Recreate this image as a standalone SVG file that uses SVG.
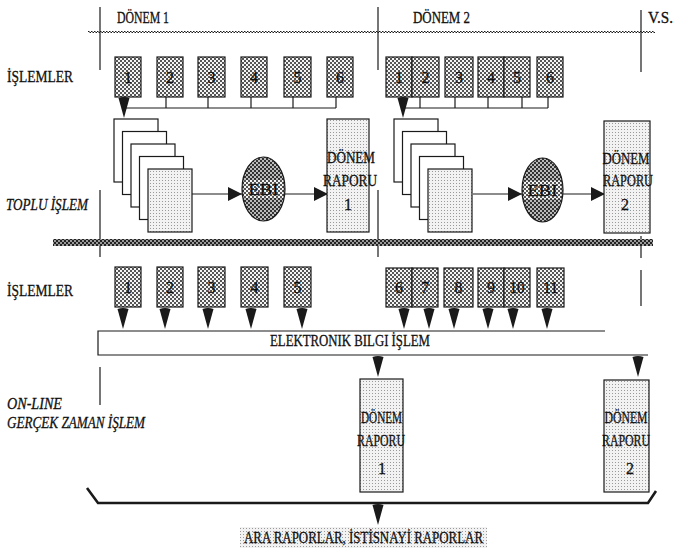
<svg xmlns="http://www.w3.org/2000/svg" width="674" height="552" viewBox="0 0 674 552">
<style>
  text { font-family: "Liberation Serif", "Times New Roman", serif; fill: #111; stroke: #111; stroke-width: 0.3; }
  .lbl { font-size: 16px; }
  .it { font-size: 16px; font-style: italic; }
  .num { font-size: 16px; text-anchor: middle; }
  .rep { font-size: 16px; text-anchor: middle; }
  .ln { stroke: #1a1a1a; stroke-width: 1.2; fill: none; }
  .box { fill: url(#pd); stroke: #1a1a1a; stroke-width: 1.2; }
  .lbox { fill: url(#pl); stroke: #1a1a1a; stroke-width: 1.2; }
  .sheet { fill: #fff; stroke: #1a1a1a; stroke-width: 1.2; }
  .ah { fill: #1a1a1a; }
  .wv { stroke: #1a1a1a; stroke-width: 1.2; stroke-dasharray: 1.5 1.5; }
</style>
<defs>
  <pattern id="pd" width="4" height="4" patternUnits="userSpaceOnUse">
    <rect width="4" height="4" fill="#f4f4f4"/>
    <rect width="2" height="2" fill="#555"/>
    <rect x="2" y="2" width="2" height="2" fill="#555"/>
  </pattern>
  <pattern id="pe" width="4" height="4" patternUnits="userSpaceOnUse">
    <rect width="4" height="4" fill="#bbb"/>
    <rect width="2" height="2" fill="#333"/>
    <rect x="2" y="2" width="2" height="2" fill="#333"/>
  </pattern>
  <pattern id="pl" width="3" height="3" patternUnits="userSpaceOnUse">
    <rect width="3" height="3" fill="#f2f2f2"/>
    <rect width="1" height="1" fill="#999"/>
  </pattern>
  <pattern id="pb" width="4" height="4" patternUnits="userSpaceOnUse">
    <rect width="4" height="4" fill="#9a9a9a"/>
    <rect width="2" height="2" fill="#222"/>
    <rect x="2" y="2" width="2" height="2" fill="#222"/>
  </pattern>
  <path id="dn" d="M-5.5,1 Q0,-1 5.5,1 L0,21 Z"/>
  <marker id="arr" markerUnits="userSpaceOnUse" markerWidth="15" markerHeight="14" refX="14" refY="7" orient="auto">
    <path d="M0,0 L14,7 L0,14 Z" fill="#1a1a1a"/>
  </marker>
</defs>
<rect width="674" height="552" fill="#fff"/>

<g id="header">
  <line class="wv" x1="88" y1="31.5" x2="655" y2="31.5"/>
  <line class="wv" x1="88" y1="32.5" x2="655" y2="32.5" stroke-dashoffset="1.5"/>
  <line class="ln" x1="100" y1="7" x2="100" y2="70"/>
  <line class="ln" x1="378" y1="7" x2="378" y2="70"/>
  <line class="ln" x1="641" y1="10" x2="641" y2="72"/>
  <text class="lbl" x="117" y="23" textLength="52" lengthAdjust="spacingAndGlyphs">DÖNEM 1</text>
  <text class="lbl" x="413" y="23" textLength="57" lengthAdjust="spacingAndGlyphs">DÖNEM 2</text>
  <text class="lbl" x="648" y="23" textLength="25" lengthAdjust="spacingAndGlyphs">V.S.</text>
</g>

<g id="labels">
  <text class="lbl" x="7" y="82" textLength="66" lengthAdjust="spacingAndGlyphs">İŞLEMLER</text>
  <text class="it" x="6" y="210" textLength="82" lengthAdjust="spacingAndGlyphs">TOPLU İŞLEM</text>
  <text class="lbl" x="7" y="296" textLength="66" lengthAdjust="spacingAndGlyphs">İŞLEMLER</text>
  <text class="it" x="7" y="409" textLength="55" lengthAdjust="spacingAndGlyphs">ON-LINE</text>
  <text class="it" x="7" y="428" textLength="138" lengthAdjust="spacingAndGlyphs">GERÇEK ZAMAN İŞLEM</text>
</g>

<g id="dividers">
  <line class="ln" x1="100" y1="190" x2="100" y2="257"/>
  <line class="ln" x1="378" y1="190" x2="378" y2="257"/>
  <line class="ln" x1="641" y1="236" x2="641" y2="258"/>
  <line class="ln" x1="641" y1="270" x2="641" y2="306"/>
  <line class="ln" x1="100" y1="367" x2="100" y2="405"/>
  <rect x="53" y="239" width="600" height="7" fill="url(#pb)"/>
</g>

<g id="connectors">
  <polyline class="ln" points="124,108 336,108"/>
  <line class="ln" x1="166" y1="97" x2="166" y2="108"/>
  <line class="ln" x1="208" y1="97" x2="208" y2="108"/>
  <line class="ln" x1="251" y1="97" x2="251" y2="108"/>
  <line class="ln" x1="293" y1="97" x2="293" y2="108"/>
  <line class="ln" x1="336" y1="97" x2="336" y2="108"/>
  <use href="#dn" x="124" y="97" class="ah"/>
  <polyline class="ln" points="403,108 548,108"/>
  <line class="ln" x1="420" y1="97" x2="420" y2="108"/>
  <line class="ln" x1="455" y1="97" x2="455" y2="108"/>
  <line class="ln" x1="488" y1="97" x2="488" y2="108"/>
  <line class="ln" x1="522" y1="97" x2="522" y2="108"/>
  <line class="ln" x1="548" y1="97" x2="548" y2="108"/>
  <use href="#dn" x="403" y="97" class="ah"/>
  <line class="ln" x1="192" y1="194" x2="242" y2="194" marker-end="url(#arr)"/>
  <line class="ln" x1="285" y1="194" x2="328" y2="194" marker-end="url(#arr)"/>
  <line class="ln" x1="473" y1="194" x2="522" y2="194" marker-end="url(#arr)"/>
  <line class="ln" x1="563" y1="194" x2="605" y2="194" marker-end="url(#arr)"/>
  <use href="#dn" x="123" y="308" class="ah"/>
  <use href="#dn" x="165" y="308" class="ah"/>
  <use href="#dn" x="208" y="308" class="ah"/>
  <use href="#dn" x="251" y="308" class="ah"/>
  <use href="#dn" x="302" y="308" class="ah"/>
  <use href="#dn" x="404" y="308" class="ah"/>
  <use href="#dn" x="429" y="308" class="ah"/>
  <use href="#dn" x="454" y="308" class="ah"/>
  <use href="#dn" x="488" y="308" class="ah"/>
  <use href="#dn" x="513" y="308" class="ah"/>
  <use href="#dn" x="547" y="308" class="ah"/>
  <use href="#dn" x="378" y="356" class="ah"/>
  <use href="#dn" x="638" y="356" class="ah"/>
  <path d="M87,488 L98,503 L648,503 L656,491" stroke="#1a1a1a" stroke-width="2.6" fill="none"/>
  <use href="#dn" x="378" y="504" class="ah"/>
</g>

<g id="t1"><rect class="box" x="115" y="57" width="26" height="40"/><text class="num" x="128" y="83">1</text></g>
<g id="t2"><rect class="box" x="157" y="57" width="26" height="40"/><text class="num" x="170" y="83">2</text></g>
<g id="t3"><rect class="box" x="198" y="57" width="27" height="40"/><text class="num" x="211.5" y="83">3</text></g>
<g id="t4"><rect class="box" x="241" y="57" width="26" height="40"/><text class="num" x="254" y="83">4</text></g>
<g id="t5"><rect class="box" x="284" y="57" width="27" height="40"/><text class="num" x="297.5" y="83">5</text></g>
<g id="t6"><rect class="box" x="327" y="57" width="26" height="40"/><text class="num" x="340" y="83">6</text></g>

<g id="u1"><rect class="box" x="386" y="57" width="26" height="40"/><text class="num" x="399" y="83">1</text></g>
<g id="u2"><rect class="box" x="412" y="57" width="27" height="40"/><text class="num" x="425.5" y="83">2</text></g>
<g id="u3"><rect class="box" x="445" y="57" width="28" height="40"/><text class="num" x="459" y="83">3</text></g>
<g id="u4"><rect class="box" x="478" y="57" width="26" height="40"/><text class="num" x="491" y="83">4</text></g>
<g id="u5"><rect class="box" x="504" y="57" width="26" height="40"/><text class="num" x="517" y="83">5</text></g>
<g id="u6"><rect class="box" x="537" y="57" width="26" height="40"/><text class="num" x="550" y="83">6</text></g>

<g id="stack1">
  <rect class="sheet" x="114" y="119" width="44" height="63"/>
  <rect class="sheet" x="122.5" y="131.5" width="44" height="63"/>
  <rect class="sheet" x="131" y="144" width="44" height="63"/>
  <rect class="sheet" x="139.5" y="156.5" width="44" height="63"/>
  <rect class="lbox" x="148" y="169" width="44" height="63"/>
</g>
<g id="stack2">
  <rect class="sheet" x="394" y="119" width="44" height="63"/>
  <rect class="sheet" x="402.5" y="131.5" width="44" height="63"/>
  <rect class="sheet" x="411" y="144" width="44" height="63"/>
  <rect class="sheet" x="419.5" y="156.5" width="44" height="63"/>
  <rect class="lbox" x="428" y="169" width="44" height="63"/>
</g>

<g id="ebi1">
  <ellipse cx="263.5" cy="189" rx="21.5" ry="32" fill="url(#pe)" stroke="#1a1a1a" stroke-width="1.2"/>
  <rect x="244" y="180" width="39" height="18" fill="url(#pd)"/>
  <text class="num" x="263.5" y="195" textLength="30" lengthAdjust="spacingAndGlyphs">EBI</text>
</g>
<g id="ebi2">
  <ellipse cx="542.5" cy="190" rx="20.5" ry="32" fill="url(#pe)" stroke="#1a1a1a" stroke-width="1.2"/>
  <rect x="524" y="181" width="37" height="18" fill="url(#pd)"/>
  <text class="num" x="542.5" y="196" textLength="30" lengthAdjust="spacingAndGlyphs">EBI</text>
</g>

<g id="rapor_t1">
  <rect class="lbox" x="327" y="119" width="42" height="113"/>
  <text class="rep" x="351" y="163" textLength="48" lengthAdjust="spacingAndGlyphs">DÖNEM</text>
  <text class="rep" x="350" y="186" textLength="54" lengthAdjust="spacingAndGlyphs">RAPORU</text>
  <text class="rep" x="348" y="210">1</text>
</g>
<g id="rapor_t2">
  <rect class="lbox" x="604" y="121" width="46" height="112"/>
  <text class="rep" x="626" y="164" textLength="47" lengthAdjust="spacingAndGlyphs">DÖNEM</text>
  <text class="rep" x="628" y="186" textLength="50" lengthAdjust="spacingAndGlyphs">RAPORU</text>
  <text class="rep" x="625" y="210">2</text>
</g>

<g id="o1"><rect class="box" x="115" y="267" width="26" height="40"/><text class="num" x="128" y="293">1</text></g>
<g id="o2"><rect class="box" x="157" y="267" width="26" height="40"/><text class="num" x="170" y="293">2</text></g>
<g id="o3"><rect class="box" x="198" y="267" width="27" height="40"/><text class="num" x="211.5" y="293">3</text></g>
<g id="o4"><rect class="box" x="241" y="267" width="27" height="40"/><text class="num" x="254.5" y="293">4</text></g>
<g id="o5"><rect class="box" x="284" y="267" width="27" height="40"/><text class="num" x="297.5" y="293">5</text></g>
<g id="o6"><rect class="box" x="386" y="268" width="26" height="39"/><text class="num" x="399" y="293">6</text></g>
<g id="o7"><rect class="box" x="412" y="268" width="26" height="39"/><text class="num" x="425" y="293">7</text></g>
<g id="o8"><rect class="box" x="444" y="268" width="29" height="39"/><text class="num" x="458.5" y="293">8</text></g>
<g id="o9"><rect class="box" x="478" y="268" width="26" height="39"/><text class="num" x="491" y="293">9</text></g>
<g id="o10"><rect class="box" x="504" y="268" width="26" height="39"/><text class="num" x="517" y="293" textLength="15" lengthAdjust="spacingAndGlyphs">10</text></g>
<g id="o11"><rect class="box" x="537" y="268" width="27" height="39"/><text class="num" x="550.5" y="293" textLength="15" lengthAdjust="spacingAndGlyphs">11</text></g>

<g id="ebi_bar">
  <path class="ln" d="M605,331 L98,331 L98,355 L648,355"/>
  <text class="lbl" x="270" y="346" textLength="160" lengthAdjust="spacingAndGlyphs">ELEKTRONIK BILGI İŞLEM</text>
</g>

<g id="rapor_o1">
  <rect class="lbox" x="360" y="379" width="43" height="113"/>
  <text class="rep" x="381.5" y="423" textLength="41" lengthAdjust="spacingAndGlyphs">DÖNEM</text>
  <text class="rep" x="381" y="446" textLength="48" lengthAdjust="spacingAndGlyphs">RAPORU</text>
  <text class="rep" x="382" y="474">1</text>
</g>
<g id="rapor_o2">
  <rect class="lbox" x="604" y="380" width="45" height="112"/>
  <text class="rep" x="626" y="423" textLength="43" lengthAdjust="spacingAndGlyphs">DÖNEM</text>
  <text class="rep" x="626" y="446" textLength="48" lengthAdjust="spacingAndGlyphs">RAPORU</text>
  <text class="rep" x="630" y="474">2</text>
</g>

<g id="ara_raporlar">
  <rect x="240" y="527" width="247" height="21" fill="url(#pl)"/>
  <text class="lbl" x="244" y="543" textLength="239" lengthAdjust="spacingAndGlyphs">ARA RAPORLAR, İSTİSNAYİ RAPORLAR</text>
</g>
</svg>
